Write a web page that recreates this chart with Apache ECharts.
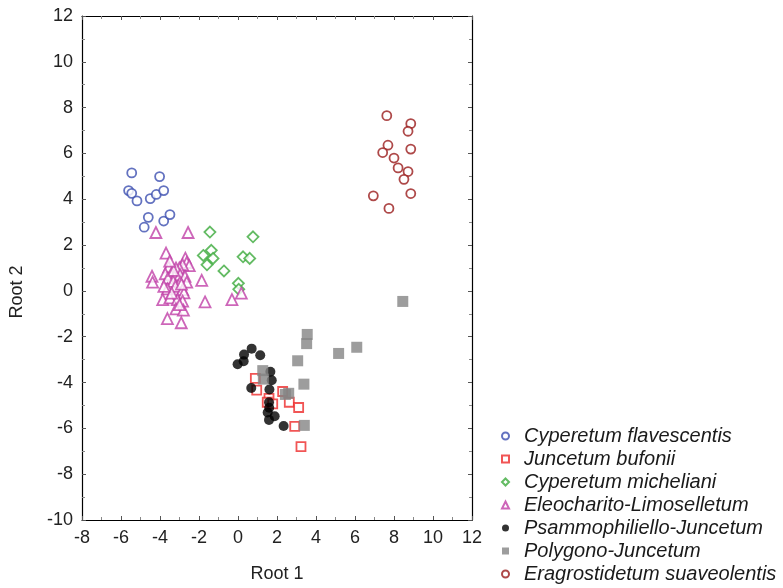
<!DOCTYPE html>
<html><head><meta charset="utf-8">
<script src="https://cdn.jsdelivr.net/npm/echarts@6/dist/echarts.min.js"></script>
<style>html,body{margin:0;padding:0;background:#fff}#c{width:783px;height:588px}</style>
</head><body><div id="c"></div>
<script>
var seriesNames = ["Cyperetum flavescentis","Juncetum bufonii","Cyperetum micheliani","Eleocharito-Limoselletum","Psammophiliello-Juncetum","Polygono-Juncetum","Eragrostidetum suaveolentis"];
var xTicks = [-8,-6,-4,-2,0,2,4,6,8,10,12];
var yTicks = [-10,-8,-6,-4,-2,0,2,4,6,8,10,12];
var cyperetumFlavescentis = [[-5.45,5.15],[-4.02,4.99],[-5.61,4.38],[-5.45,4.26],[-5.18,3.93],[-4.50,4.03],[-4.19,4.21],[-3.81,4.38],[-4.60,3.21],[-3.81,3.05],[-3.49,3.33],[-4.81,2.78]];
var juncetumBufonii = [[0.89,-3.82],[0.96,-4.33],[2.29,-4.39],[1.59,-4.69],[1.50,-4.86],[1.78,-4.93],[2.63,-4.86],[3.11,-5.09],[2.91,-5.91],[3.23,-6.80]];
var cyperetumMicheliani = [[-1.44,2.57],[0.77,2.36],[-1.37,1.77],[-1.78,1.55],[-1.28,1.42],[-1.59,1.14],[0.26,1.49],[0.60,1.42],[-0.72,0.87],[0.02,0.33],[0.04,0.07]];
var eleocharitoLimoselletum = [[-4.21,2.55],[-2.56,2.55],[-3.69,1.65],[-2.70,1.43],[-2.63,1.24],[-2.50,1.10],[-2.84,1.14],[-3.01,1.00],[-3.18,1.00],[-3.55,1.04],[-3.73,0.75],[-3.45,0.71],[-3.25,0.64],[-3.59,0.56],[-2.97,0.71],[-2.72,0.64],[-4.41,0.64],[-4.38,0.38],[-3.32,0.42],[-2.97,0.38],[-2.63,0.38],[-1.86,0.46],[-3.62,0.09],[-3.21,0.20],[-2.84,0.06],[-2.77,-0.09],[-3.86,-0.38],[-3.49,-0.30],[-3.11,-0.38],[-2.84,-0.45],[-1.69,-0.48],[-0.31,-0.38],[0.17,-0.10],[-3.18,-0.78],[-2.80,-0.84],[-3.62,-1.21],[-2.91,-1.39],[-3.30,0.90],[-2.90,0.30],[-3.40,-0.10],[-3.00,-0.60],[-3.50,1.30],[-3.80,0.20]];
var psammophilielloJuncetum = [[0.70,-2.52],[0.31,-2.78],[1.14,-2.81],[0.29,-3.07],[-0.02,-3.20],[1.66,-3.53],[1.73,-3.90],[0.68,-4.24],[1.61,-4.30],[1.59,-4.86],[1.52,-5.31],[1.88,-5.47],[1.59,-5.63],[2.34,-5.90],[1.60,-5.10]];
var polygonoJuncetum = [[8.45,-0.46],[3.55,-1.90],[3.52,-2.30],[6.09,-2.46],[5.16,-2.73],[3.06,-3.05],[1.27,-3.48],[1.30,-3.85],[3.38,-4.07],[2.60,-4.47],[2.43,-4.52],[3.40,-5.87]];
var eragrostidetumSuaveolentis = [[7.63,7.65],[8.86,7.30],[8.72,6.97],[7.69,6.36],[8.86,6.19],[7.42,6.04],[8.00,5.80],[8.21,5.37],[8.72,5.21],[8.51,4.87],[8.86,4.25],[6.94,4.15],[7.74,3.60]];

var chart = echarts.init(document.getElementById('c'));
var font = 'Liberation Sans, Arial, sans-serif';
function hollow(name, data, symbol, size, col){
  return {name:name, type:'scatter', data:data, symbol:symbol, symbolSize:size,
    itemStyle:{color:'#fff', borderColor:col, borderWidth:1.8}, xAxisIndex:0, yAxisIndex:0};
}
function filled(name, data, symbol, size, col){
  return {name:name, type:'scatter', data:data, symbol:symbol, symbolSize:size,
    itemStyle:{color:col}, xAxisIndex:0, yAxisIndex:0};
}
var axisCommon = {
  min:-8, max:12, interval:2,
  axisLine:{show:true, onZero:false, lineStyle:{color:'#000', width:1.2}},
  axisTick:{show:true, inside:true, length:4, lineStyle:{color:'#555'}},
  minorTick:{show:true, splitNumber:2, length:3, lineStyle:{color:'#888'}},
  splitLine:{show:false}
};
chart.setOption({
  animation:false,
  backgroundColor:'#fff',
  grid:{left:82, right:311, top:16, bottom:65, show:false},
  xAxis:[
    Object.assign({}, axisCommon, {type:'value', position:'bottom', name:'Root 1', nameLocation:'middle', nameGap:45,
      nameTextStyle:{fontSize:18, color:'#222', fontFamily:font},
      axisLabel:{fontSize:18, color:'#222', fontFamily:font, margin:9, formatter:function(v){return xTicks.indexOf(v)>=0?String(v):'';}}}),
    Object.assign({}, axisCommon, {type:'value', position:'top', axisLabel:{show:false}})
  ],
  yAxis:[
    Object.assign({}, axisCommon, {type:'value', min:-10, max:12, interval:2, position:'left', name:'Root 2', nameLocation:'middle', nameGap:56,
      nameTextStyle:{fontSize:18, color:'#222', fontFamily:font, padding:[0,48,0,0]},
      axisLabel:{fontSize:18, color:'#222', fontFamily:font, margin:9, formatter:function(v){return yTicks.indexOf(v)>=0?String(v):'';}}}),
    Object.assign({}, axisCommon, {type:'value', min:-10, max:12, interval:2, position:'right', axisLabel:{show:false}})
  ],
  legend:{
    orient:'vertical', left:501, top:426, height:220, padding:0, itemGap:3, itemWidth:7, itemHeight:7,
    textStyle:{fontSize:20, lineHeight:20, fontStyle:'italic', color:'#1a1a1a', fontFamily:font, padding:[0,0,0,10]},
    data:seriesNames.map(function(n, i){
      var ic = ['circle','rect','diamond','triangle','circle','rect','circle'][i];
      return {name:n, icon:ic};
    })
  },
  series:[
    hollow(seriesNames[0], cyperetumFlavescentis, 'circle', 9, '#3c4fb0'),
    hollow(seriesNames[1], juncetumBufonii, 'rect', 9, '#ee2a2a'),
    hollow(seriesNames[2], cyperetumMicheliani, 'diamond', 11, '#3caa3c'),
    hollow(seriesNames[3], eleocharitoLimoselletum, 'triangle', 11, '#c040a8'),
    filled(seriesNames[4], psammophilielloJuncetum, 'circle', 10, '#000'),
    filled(seriesNames[5], polygonoJuncetum, 'rect', 11, '#848484'),
    hollow(seriesNames[6], eragrostidetumSuaveolentis, 'circle', 9, '#9a1c1c')
  ]
});
</script></body></html>
